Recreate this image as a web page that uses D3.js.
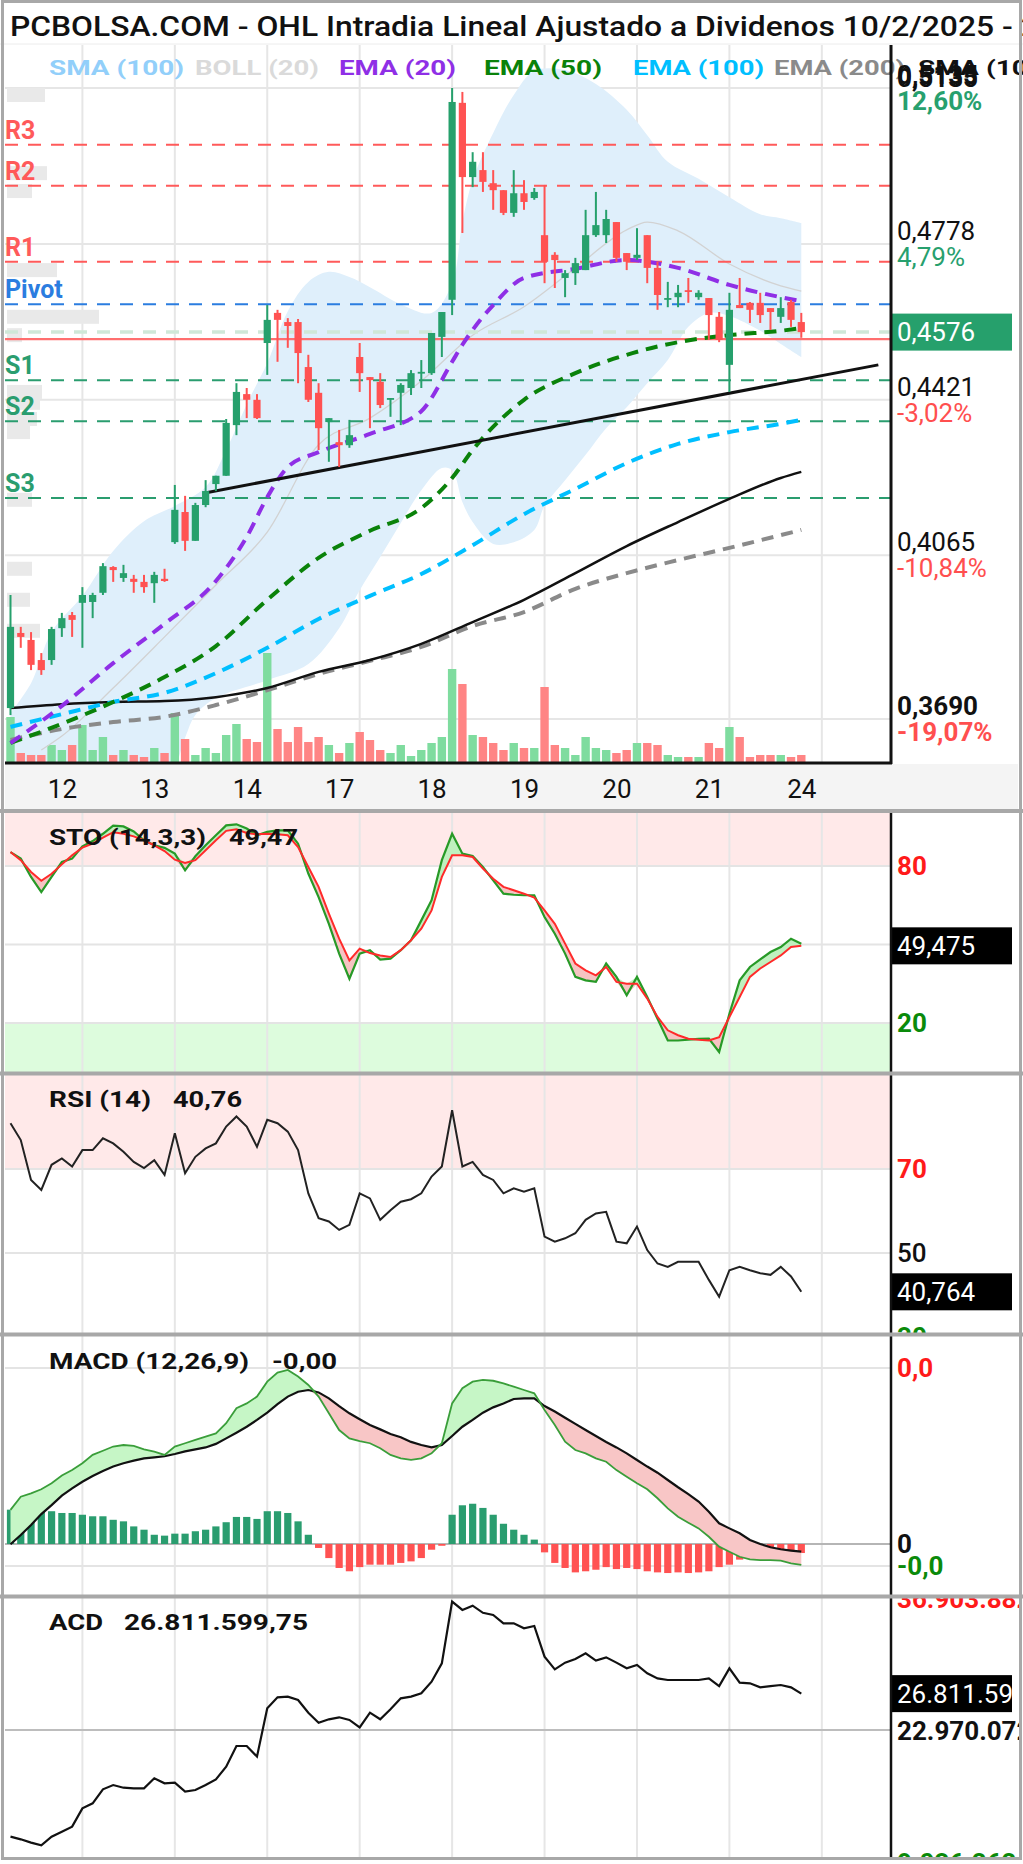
<!DOCTYPE html>
<html><head><meta charset="utf-8">
<script src="https://cdn.jsdelivr.net/npm/d3@7/dist/d3.min.js"></script>
<style>
body{margin:0;background:#fff}
svg{display:block}
text{font-family:Roboto,"Noto Sans",sans-serif}
</style></head>
<body><svg id="c" width="1023" height="1864"></svg>
<script>
// ---------------- DATA ----------------
const dayLabels = ["12","13","14","17","18","19","20","21","24"];
const dayTickIdx = [7,16,25,34,43,52,61,70,79];

const open  = [0.3715,0.3887,0.3871,0.3825,0.3825,0.3898,0.3928,0.3956,0.3958,0.3979,
0.4038,0.4013,0.4011,0.4004,0.4001,0.4011,0.4095,0.4164,0.4098,0.4180,
0.4228,0.4247,0.4363,0.4434,0.4421,0.4551,0.4620,0.4599,0.4599,0.4496,
0.4437,0.4370,0.4324,0.4317,0.4519,0.4473,0.4462,0.4421,0.4437,0.4448,
0.4482,0.4482,0.4565,0.4650,0.5101,0.4931,0.4947,0.4917,0.4901,0.4849,
0.4894,0.4883,0.4798,0.4753,0.4700,0.4711,0.4718,0.4798,0.4798,0.4828,
0.4757,0.4746,0.4798,0.4723,0.4650,0.4656,0.4672,0.4656,0.4654,0.4611,
0.4501,0.4638,0.4643,0.4643,0.4631,0.4611,0.4645,0.4599];
const high  = [0.3974,0.3901,0.3889,0.3841,0.3901,0.3933,0.3935,0.3992,0.3979,0.4047,
0.4040,0.4043,0.4020,0.4020,0.4027,0.4034,0.4226,0.4201,0.4185,0.4237,
0.4247,0.4377,0.4459,0.4448,0.4434,0.4638,0.4627,0.4608,0.4606,0.4524,
0.4459,0.4379,0.4352,0.4375,0.4551,0.4473,0.4482,0.4425,0.4459,0.4489,
0.4512,0.4574,0.4622,0.5135,0.5126,0.4988,0.4988,0.4947,0.4901,0.4947,
0.4924,0.4906,0.4913,0.4759,0.4718,0.4746,0.4856,0.4897,0.4856,0.4828,
0.4757,0.4814,0.4798,0.4737,0.4691,0.4684,0.4700,0.4672,0.4654,0.4622,
0.4666,0.4700,0.4645,0.4666,0.4631,0.4656,0.4650,0.4620];
const low   = [0.3699,0.3853,0.3802,0.3791,0.3814,0.3878,0.3878,0.3853,0.3921,0.3974,
0.4004,0.4004,0.3979,0.3979,0.3956,0.4004,0.4091,0.4075,0.4098,0.4175,
0.4212,0.4247,0.4340,0.4379,0.4377,0.4478,0.4508,0.4540,0.4459,0.4416,
0.4306,0.4279,0.4267,0.4311,0.4439,0.4356,0.4402,0.4382,0.4363,0.4432,
0.4448,0.4478,0.4519,0.4615,0.4803,0.4908,0.4897,0.4856,0.4844,0.4840,
0.4856,0.4879,0.4688,0.4677,0.4656,0.4684,0.4718,0.4794,0.4780,0.4737,
0.4718,0.4741,0.4688,0.4627,0.4633,0.4633,0.4643,0.4650,0.4558,0.4553,
0.4439,0.4631,0.4597,0.4597,0.4581,0.4597,0.4588,0.4563];
const close = [0.3901,0.3878,0.3814,0.3802,0.3896,0.3921,0.3917,0.3974,0.3974,0.4040,
0.4031,0.4024,0.4004,0.3992,0.4020,0.4006,0.4169,0.4098,0.4180,0.4212,
0.4247,0.4368,0.4439,0.4421,0.4379,0.4604,0.4604,0.4590,0.4528,0.4421,
0.4356,0.4379,0.4317,0.4340,0.4482,0.4466,0.4409,0.4425,0.4455,0.4482,
0.4485,0.4574,0.4622,0.5103,0.4931,0.4966,0.4920,0.4901,0.4849,0.4894,
0.4874,0.4897,0.4737,0.4741,0.4711,0.4734,0.4798,0.4821,0.4835,0.4746,
0.4737,0.4753,0.4723,0.4661,0.4654,0.4666,0.4668,0.4666,0.4615,0.4558,
0.4627,0.4631,0.4627,0.4615,0.4622,0.4631,0.4604,0.4576];
const volume = [450,90,70,70,170,120,170,370,120,250,
70,120,70,50,140,90,490,230,70,140,
90,270,380,230,200,1090,330,200,350,200,
250,170,90,190,300,220,120,90,170,60,
120,190,250,930,780,270,250,190,120,190,
140,140,750,170,140,70,250,140,120,90,
120,190,190,170,70,50,50,50,190,140,
350,250,50,70,70,70,50,70];

// overlays: index of candle + value
const ema20Idx = [0,5,10,15,20,23,25,27,30,35,40,43,44,45,47,50,55,60,65,70,75,77];
const ema20 = [0.3635,0.3720,0.3818,0.3908,0.4006,0.4107,0.4198,0.4267,0.4301,0.4343,0.4395,0.4508,0.4547,0.4581,0.4638,0.4700,0.4721,0.4741,0.4723,0.4684,0.4656,0.4647];
const ema50Idx = [0,5,10,15,20,25,30,35,40,43,45,50,55,60,65,70,75,77];
const ema50 = [0.3635,0.3679,0.3729,0.3786,0.3857,0.3963,0.4059,0.4121,0.4173,0.4242,0.4306,0.4421,0.4482,0.4524,0.4553,0.4569,0.4579,0.4585];
const longIdx = [0,5,10,15,20,25,30,35,40,45,50,55,60,65,70,75,77];
const ema100 = [0.3672,0.3701,0.3729,0.3750,0.3795,0.3853,0.3919,0.3972,0.4022,0.4088,0.4159,0.4217,0.4276,0.4320,0.4347,0.4366,0.4375];
const ema200 = [0.3642,0.3667,0.3683,0.3695,0.3722,0.3756,0.3793,0.3823,0.3855,0.3903,0.3935,0.3988,0.4024,0.4054,0.4082,0.4111,0.4123];
const smaLong = [0.3715,0.3724,0.3729,0.3731,0.3740,0.3761,0.3798,0.3825,0.3862,0.3912,0.3963,0.4024,0.4086,0.4141,0.4194,0.4242,0.4256];
const bollMidIdx = [3,5,10,15,20,25,30,35,40,45,50,55,60,62,65,70,75,77];
const bollMid = [0.3619,0.3651,0.3761,0.3878,0.3997,0.4118,0.4318,0.4379,0.4464,0.4569,0.4634,0.4723,0.4810,0.4828,0.4808,0.4732,0.4682,0.4670];
const bollUpIdx = [0,2,4,7,10,13,16,19,21,23,25,27,29,31,33,35,38,41,43,44,45,47,49,51,54,57,60,62,64,67,70,73,75,77];
const bollUp = [0.3704,0.3772,0.3889,0.3972,0.4075,0.4143,0.4178,0.4221,0.4306,0.4411,0.4505,0.4624,0.4691,0.4714,0.4702,0.4679,0.4640,0.4620,0.4688,0.4828,0.4924,0.5032,0.5119,0.5174,0.5176,0.5144,0.5085,0.5027,0.4966,0.4927,0.4885,0.4846,0.4837,0.4826];
const bollLowIdx = [0,10,15,17,18,20,25,29,32,34,36,38,40,42,43,44,45,47,49,51,52,54,56,58,60,62,64,66,68,70,73,75,77];
const bollLow = [0.3436,0.3459,0.3527,0.3647,0.3699,0.3738,0.3779,0.3816,0.3898,0.3985,0.4061,0.4139,0.4214,0.4265,0.4260,0.4187,0.4141,0.4091,0.4095,0.4123,0.4178,0.4237,0.4295,0.4356,0.4404,0.4459,0.4512,0.4588,0.4620,0.4613,0.4579,0.4549,0.4519];
const trendIdx = [18.8, 84.5];
const trendVal = [0.4207, 0.4501];

const pivotNames = ["R3","R2","R1","Pivot","S1","S2","S3"];
const pivotVals  = [0.5005,0.4911,0.4737,0.4640,0.4466,0.4372,0.4196];
const lastClose = 0.4576, prevClose = 0.4560;

const vpPrice = [0.5119,0.4940,0.4899,0.4718,0.4611,0.4569,0.4439,0.4414,0.4377,0.4347,0.4192,0.4034,0.3963,0.3892];
const vpSize  = [38,40,25,50,92,15,35,33,30,23,25,25,23,33];

const priceTicks = [0.5135,0.4778,0.4421,0.4065,0.3690];
const priceTickLabels = ["0,5135","0,4778","0,4421","0,4065","0,3690"];
const pctLabels = ["12,60%","4,79%","-3,02%","-10,84%","-19,07%"];

const stoK = [85.3,82.8,75.8,70.0,75.8,81.5,82.8,87.5,89.5,92.3,
95.4,95.1,93.2,89.8,87.9,86.9,84.7,78.3,83.7,87.9,
91.7,95.5,95.9,94.3,91.7,93.0,93.6,93.6,88.5,77.1,
68.1,57.9,46.5,36.9,46.5,47.8,44.2,44.6,47.8,51.6,
59.2,66.9,82.2,92.3,84.7,83.8,79.6,74.5,69.4,69.0,
68.8,68.8,60.5,54.1,46.5,37.6,36.3,35.7,42.7,37.6,
30.6,37.6,29.9,21.6,13.3,13.3,13.6,13.9,14.0,8.9,
23.5,36.3,41.4,44.3,47.1,49.0,52.2,50.3];
const stoD = [85.3,82.2,77.7,74.3,77.0,80.6,84.1,87.0,88.5,90.8,
92.9,92.3,91.3,89.8,87.9,85.7,82.4,81.1,82.2,86.0,
89.8,93.4,94.0,92.6,92.1,92.3,92.1,91.7,87.2,79.6,
72.0,61.8,52.2,43.9,48.4,46.7,45.8,45.2,47.8,51.6,
56.0,63.0,75.8,84.1,84.1,83.4,79.0,75.1,72.0,70.7,
69.4,67.9,63.0,57.9,50.3,42.7,40.1,38.2,41.4,35.7,
35.0,35.0,29.3,22.3,17.2,15.3,14.0,13.6,13.3,14.6,
22.3,29.9,37.6,40.8,43.3,45.8,49.0,49.47];
const rsi = [80.9,76.9,67.4,65.0,71.0,72.5,70.6,74.5,74.5,77.3,
76.1,74.1,71.7,70.2,72.1,68.6,78.5,69.0,72.9,74.9,
76.1,80.1,82.5,80.1,75.3,81.7,80.9,78.9,74.5,64.2,
58.3,57.5,55.5,56.7,64.2,63.0,57.9,60.2,62.2,62.8,
64.2,68.2,70.6,84.0,70.6,71.7,68.6,67.4,64.2,65.4,
64.6,65.4,53.9,52.7,53.5,54.7,57.9,59.4,59.8,52.7,
52.3,56.3,50.7,47.5,46.7,47.9,47.9,47.9,43.6,39.6,
45.9,46.7,45.9,45.2,44.8,46.7,44.4,40.76];
// MACD values in units of 0.0001
const macd = [15.5,21.5,23.0,24.9,27.6,31.1,33.6,36.7,40.5,42.4,
44.3,45.0,44.6,43.0,42.0,40.5,44.3,45.8,47.3,48.8,
50.3,54.9,61.7,63.9,67.0,73.8,77.9,79.1,76.1,72.3,
67.0,59.4,51.8,48.0,46.8,45.8,43.5,40.5,38.9,38.2,
38.9,41.2,45.8,63.9,70.8,73.8,74.6,74.2,73.0,71.5,
70.0,68.5,60.9,54.1,46.5,42.7,41.2,38.9,37.4,33.6,
30.6,27.6,24.9,20.8,16.2,12.4,9.7,7.1,3.3,-1.2,
-3.5,-5.8,-7.0,-7.3,-7.3,-7.6,-8.8,-9.5];
const macdSignal = [-0.1,4.1,8.6,13.6,17.7,22.0,25.3,28.3,30.9,33.2,
35.2,36.7,37.9,38.9,39.4,39.9,40.9,42.1,43.0,43.9,
45.5,48.0,50.6,53.3,56.4,59.7,63.6,67.0,69.2,70.0,
68.9,66.2,62.7,59.4,56.7,54.1,52.1,50.0,48.5,46.4,
45.0,43.9,45.0,49.1,53.3,56.4,59.7,62.1,63.9,65.9,
66.2,66.2,62.7,60.2,57.4,54.6,51.8,49.1,46.4,43.9,
41.2,38.2,35.2,32.4,29.1,25.8,22.7,19.3,14.7,9.4,
7.1,4.9,1.8,0.0,-1.5,-2.4,-3.0,-3.5];
const macdHist = [15.6,17.1,16.4,14.9,14.9,14.1,14.1,13.3,12.6,12.6,
11.0,10.3,8.0,6.5,4.2,3.8,4.7,4.7,5.8,6.5,
8.0,9.9,12.3,12.3,11.4,14.9,14.9,14.1,10.3,4.2,
-1.8,-6.4,-10.9,-12.4,-10.5,-9.4,-9.4,-9.4,-8.6,-7.9,
-6.4,-2.6,-0.8,13.3,17.6,18.3,16.4,13.3,9.2,6.5,
4.2,2.0,-3.8,-8.6,-10.9,-12.9,-12.4,-11.7,-10.5,-11.4,
-10.9,-11.4,-12.4,-12.9,-13.2,-12.9,-13.2,-12.9,-12.4,-10.5,
-9.4,-7.1,-5.6,-4.4,-2.6,-3.8,-3.3,-4.1];
// ACD in millions
const acd = [11.71,11.43,11.08,10.79,11.71,12.24,12.77,14.70,15.23,16.71,
17.16,16.88,16.81,16.81,17.87,17.34,17.41,16.46,16.64,17.16,
17.76,19.10,21.28,21.28,20.16,25.26,26.42,26.49,26.14,24.80,
23.74,24.10,24.31,24.03,23.25,24.80,24.10,25.15,26.31,26.49,
26.84,28.07,30.01,36.52,35.64,36.09,35.34,35.11,34.23,34.23,
33.70,33.95,30.71,29.37,30.08,30.46,31.06,30.29,30.64,30.08,
29.48,29.83,28.95,28.42,28.25,28.25,28.25,28.25,28.42,27.61,
29.48,27.97,27.90,27.47,27.61,27.72,27.47,26.81];

// ---------------- LAYOUT ----------------
const svg = d3.select("#c");
const defs = svg.append("defs");
const PL = 5, PR = 891;
const UP = "#26a06c", DN = "#ff5252";
function clip(id, x, y, w, h){
  defs.append("clipPath").attr("id", id).append("rect")
    .attr("x", x).attr("y", y).attr("width", w).attr("height", h);
  return "url(#" + id + ")";
}
function T(g, s, x, y, o){
  o = o || {};
  const t = g.append("text").attr("x", x).attr("y", y).text(s)
    .attr("font-size", o.size || 26).attr("font-weight", o.weight || 400)
    .attr("fill", o.fill || "#111");
  if (o.anchor) t.attr("text-anchor", o.anchor);
  if (o.len) t.attr("textLength", o.len).attr("lengthAdjust", "spacingAndGlyphs");
  return t;
}
const N = close.length;
const idx = d3.range(N);
const x = d3.scaleLinear().domain([0, 77]).range([10.5, 801.3]);
const y = d3.scaleLinear().domain([0.3690, 0.5135]).range([719, 88]);
const yVol = d3.scaleLinear().domain([0, 1090]).range([762, 653]);
const vpW = d3.scaleLinear().domain([0, 100]).range([0, 100]);

svg.append("rect").attr("width", 1023).attr("height", 1864).attr("fill", "#fff");

// ---------- title ----------
T(svg, "PCBOLSA.COM - OHL Intradia Lineal Ajustado a Dividenos 10/2/2025 - 24/2/2025", 10, 36,
  {size: 28, weight: 500, len: 1162});

// ---------- main panel ----------
const mainTop = 45, mainBot = 762;
const gMain = svg.append("g");
gMain.append("rect").attr("x", PL).attr("y", mainBot + 2).attr("width", 1018 - PL).attr("height", 46).attr("fill", "#f4f4f4");
dayTickIdx.forEach(i => {
  gMain.append("line").attr("x1", x(i)).attr("x2", x(i)).attr("y1", mainTop).attr("y2", mainBot)
    .attr("stroke", "#e6e6e6").attr("stroke-width", 2);
});
priceTicks.forEach(v => {
  gMain.append("line").attr("x1", PL).attr("x2", PR).attr("y1", y(v)).attr("y2", y(v))
    .attr("stroke", "#e6e6e6").attr("stroke-width", 2);
});
const plot = gMain.append("g").attr("clip-path", clip("mainclip", PL, mainTop, PR - PL, mainBot - mainTop));

// bollinger band
const lc = d3.line().curve(d3.curveCatmullRom.alpha(0.5));
const upPts = bollUpIdx.map((i, k) => [x(i), y(bollUp[k])]);
const loPts = bollLowIdx.map((i, k) => [x(i), y(bollLow[k])]).reverse();
plot.append("path").attr("d", lc(upPts) + lc(loPts).replace(/^M/, "L") + "Z").attr("fill", "#dfeffb");

// volume profile
vpPrice.forEach((p, k) => {
  plot.append("rect").attr("x", PL + 2).attr("y", y(p) - 7).attr("width", vpW(vpSize[k])).attr("height", 14)
    .attr("fill", "#e9e9e9");
});
// volume bars
idx.forEach(i => {
  plot.append("rect").attr("x", x(i) - 4.2).attr("width", 8.4)
    .attr("y", yVol(volume[i])).attr("height", yVol(0) - yVol(volume[i]))
    .attr("fill", close[i] >= open[i] ? "#7fdc9f" : "#ff8585");
});
// SMA20 (boll mid)
const lm = d3.line().curve(d3.curveMonotoneX);
plot.append("path").attr("d", lm(bollMidIdx.map((i, k) => [x(i), y(bollMid[k])])))
  .attr("fill", "none").attr("stroke", "#d2d2d2").attr("stroke-width", 1.3);

// pivot lines
const pivColor = n => n[0] === "R" ? "#ff5a5a" : (n[0] === "S" ? "#2a9d6f" : "#2b7de0");
pivotNames.forEach((n, k) => {
  plot.append("line").attr("x1", PL).attr("x2", PR).attr("y1", y(pivotVals[k])).attr("y2", y(pivotVals[k]))
    .attr("stroke", pivColor(n)).attr("stroke-width", 2).attr("stroke-dasharray", "13,10");
});
plot.append("line").attr("x1", PL).attr("x2", PR).attr("y1", y(lastClose)).attr("y2", y(lastClose))
  .attr("stroke", "#cfe8d8").attr("stroke-width", 3.5).attr("stroke-dasharray", "13,10");
plot.append("line").attr("x1", PL).attr("x2", PR).attr("y1", y(prevClose)).attr("y2", y(prevClose))
  .attr("stroke", "#ff6f6f").attr("stroke-width", 2.2);

// moving averages
function ma(ids, vals, color, w, dash){
  const p = plot.append("path").attr("d", lm(ids.map((i, k) => [x(i), y(vals[k])])))
    .attr("fill", "none").attr("stroke", color).attr("stroke-width", w).attr("stroke-linecap", "butt");
  if (dash) p.attr("stroke-dasharray", dash);
}
ma(longIdx, ema200, "#8a8a8a", 4, "12,8");
ma(longIdx, smaLong, "#111", 2.5, null);
ma(longIdx, ema100, "#00bfff", 4, "12,8");
ma(ema50Idx, ema50, "#0a820a", 4, "12,8");
ma(ema20Idx, ema20, "#8f2fe6", 4, "12,8");
plot.append("line").attr("x1", x(trendIdx[0])).attr("y1", y(trendVal[0]))
  .attr("x2", x(trendIdx[1])).attr("y2", y(trendVal[1]))
  .attr("stroke", "#111").attr("stroke-width", 3);

// candles
idx.forEach(i => {
  const c = close[i] >= open[i] ? UP : DN;
  plot.append("line").attr("x1", x(i)).attr("x2", x(i)).attr("y1", y(high[i])).attr("y2", y(low[i]))
    .attr("stroke", c).attr("stroke-width", 2);
  const t = y(Math.max(open[i], close[i])), b = y(Math.min(open[i], close[i]));
  plot.append("rect").attr("x", x(i) - 3.6).attr("width", 7.2).attr("y", t).attr("height", Math.max(1.8, b - t)).attr("fill", c);
});

pivotNames.forEach((n, k) => {
  T(gMain, n, 5, y(pivotVals[k]) - 6, {size: 25, weight: 700, fill: pivColor(n)});
});

gMain.append("line").attr("x1", PL).attr("x2", PR + 1).attr("y1", mainBot + 1).attr("y2", mainBot + 1).attr("stroke", "#111").attr("stroke-width", 3);
dayLabels.forEach((d, k) => {
  T(gMain, d, x(dayTickIdx[k]) - 20, 798, {size: 26, anchor: "middle"});
});

// legend
const legend = [
  {t: "SMA (100)", c: "#92cffa", x: 49, w: 135},
  {t: "BOLL (20)", c: "#dadada", x: 195, w: 124},
  {t: "EMA (20)", c: "#8f2fe6", x: 339, w: 117},
  {t: "EMA (50)", c: "#0a820a", x: 484, w: 118},
  {t: "EMA (100)", c: "#00bfff", x: 633, w: 131},
  {t: "EMA (200)", c: "#8a8a8a", x: 774, w: 131},
  {t: "SMA (1000)", c: "#111", x: 918, w: 152}
];
legend.forEach(l => T(gMain, l.t, l.x, 75, {size: 21, weight: 700, fill: l.c, len: l.w}));

priceTicks.forEach((v, k) => {
  const bold = (k === 0 || k === priceTicks.length - 1);
  const pct = pctLabels[k];
  T(gMain, priceTickLabels[k], 897, y(v) - 4, {size: 26, weight: bold ? 700 : 400});
  T(gMain, pct, 897, y(v) + 22, {size: 26, weight: bold ? 700 : 400, fill: pct[0] === "-" ? "#ff4f4f" : "#27a06e"});
});
gMain.append("rect").attr("x", 892).attr("y", y(lastClose) - 18.5).attr("width", 120).attr("height", 37).attr("fill", UP);
T(gMain, "0,4576", 897, y(lastClose) + 9, {size: 26, fill: "#fff"});

// ---------------- lower panels ----------------
const panels = [
  {top: 813, bot: 1072},
  {top: 1075, bot: 1333},
  {top: 1336, bot: 1595},
  {top: 1598, bot: 1857}
];
function vgrid(g, p){
  dayTickIdx.forEach(i => g.append("line").attr("x1", x(i)).attr("x2", x(i)).attr("y1", p.top).attr("y2", p.bot)
    .attr("stroke", "#e6e6e6").attr("stroke-width", 2));
}
function hline(g, yy, color, w){
  g.append("line").attr("x1", PL).attr("x2", PR).attr("y1", yy).attr("y2", yy).attr("stroke", color).attr("stroke-width", w);
}
function boxLabel(g, s, cy, fill, clipId){
  g.append("rect").attr("x", 892).attr("y", cy - 18.5).attr("width", 120).attr("height", 37).attr("fill", fill);
  const t = T(g, s, 897, cy + 9, {size: 26, fill: "#fff"});
  if (clipId) t.attr("clip-path", clip(clipId, 892, cy - 18.5, 120, 37));
}
function fillBetween(g, a, b, upColor, dnColor, ys){
  g.append("path").attr("d", d3.area().x(i => x(i)).y0(i => ys(b[i])).y1(i => ys(Math.max(a[i], b[i])))(idx)).attr("fill", upColor);
  g.append("path").attr("d", d3.area().x(i => x(i)).y0(i => ys(b[i])).y1(i => ys(Math.min(a[i], b[i])))(idx)).attr("fill", dnColor);
}
const lineIdx = (arr, ys) => d3.line().x(i => x(i)).y(i => ys(arr[i]))(idx);

// STO
{
  const p = panels[0];
  const ys = d3.scaleLinear().domain([0, 100]).range([1075.3, 813.6]);
  const g = svg.append("g");
  g.append("rect").attr("x", PL).attr("y", p.top).attr("width", PR - PL).attr("height", ys(80) - p.top).attr("fill", "#ffe9e9");
  g.append("rect").attr("x", PL).attr("y", ys(20)).attr("width", PR - PL).attr("height", p.bot - ys(20)).attr("fill", "#ddfcdd");
  vgrid(g, p);
  [80, 50, 20].forEach(v => hline(g, ys(v), "#e4e4e4", 2));
  const pg = g.append("g").attr("clip-path", clip("stoclip", PL, p.top, PR - PL, p.bot - p.top));
  fillBetween(pg, stoK, stoD, "#bff0bf", "#f6c3c3", ys);
  pg.append("path").attr("d", lineIdx(stoK, ys)).attr("fill", "none").attr("stroke", "#279a27").attr("stroke-width", 2.2);
  pg.append("path").attr("d", lineIdx(stoD, ys)).attr("fill", "none").attr("stroke", "#ff2a2a").attr("stroke-width", 2);
  T(g, "STO (14,3,3)", 49, 845, {size: 22, weight: 700, len: 157});
  T(g, "49,47", 229, 845, {size: 22, weight: 700, len: 69});
  T(g, "80", 897, ys(80) + 9, {size: 26, weight: 700, fill: "#ff1a1a"});
  T(g, "20", 897, ys(20) + 9, {size: 26, weight: 700, fill: "#0a8a0a"});
  boxLabel(g, "49,475", ys(stoD[N - 1]), "#000");
}
// RSI
{
  const p = panels[1];
  const ys = d3.scaleLinear().domain([30, 70]).range([1337, 1169]);
  const g = svg.append("g");
  g.append("rect").attr("x", PL).attr("y", p.top).attr("width", PR - PL).attr("height", ys(70) - p.top).attr("fill", "#ffe9e9");
  vgrid(g, p);
  [70, 50].forEach(v => hline(g, ys(v), "#e4e4e4", 2));
  const pg = g.append("g").attr("clip-path", clip("rsiclip", PL, p.top, PR - PL, p.bot - p.top));
  pg.append("path").attr("d", lineIdx(rsi, ys)).attr("fill", "none").attr("stroke", "#222").attr("stroke-width", 2);
  T(g, "RSI (14)", 49, 1107, {size: 22, weight: 700, len: 102});
  T(g, "40,76", 173, 1107, {size: 22, weight: 700, len: 69});
  T(g, "70", 897, ys(70) + 9, {size: 26, weight: 700, fill: "#ff1a1a"});
  T(g, "50", 897, ys(50) + 9, {size: 26, weight: 500});
  T(g, "30", 897, ys(30) + 9, {size: 26, weight: 700, fill: "#0a8a0a"}).attr("clip-path", clip("rsilab", 892, p.top, 130, p.bot - p.top));
  boxLabel(g, "40,764", ys(rsi[N - 1]), "#000");
}
// MACD
{
  const p = panels[2];
  const ys = d3.scaleLinear().domain([-10, 80]).range([1566, 1368]);
  const g = svg.append("g");
  vgrid(g, p);
  hline(g, ys(80), "#e4e4e4", 2);
  hline(g, ys(-10), "#e4e4e4", 2);
  hline(g, ys(0), "#b5b5b5", 2);
  const pg = g.append("g").attr("clip-path", clip("macdclip", PL, p.top, PR - PL, p.bot - p.top));
  idx.forEach(i => {
    const v = macdHist[i];
    pg.append("rect").attr("x", x(i) - 3.6).attr("width", 7.2)
      .attr("y", Math.min(ys(0), ys(v))).attr("height", Math.abs(ys(v) - ys(0)))
      .attr("fill", v >= 0 ? "#2a9d6f" : "#ff5252");
  });
  fillBetween(pg, macd, macdSignal, "#c6f6c6", "#f8c6c6", ys);
  pg.append("path").attr("d", lineIdx(macdSignal, ys)).attr("fill", "none").attr("stroke", "#111").attr("stroke-width", 2.2);
  pg.append("path").attr("d", lineIdx(macd, ys)).attr("fill", "none").attr("stroke", "#3a9e3a").attr("stroke-width", 1.8);
  T(g, "MACD (12,26,9)", 49, 1369, {size: 22, weight: 700, len: 200});
  T(g, "-0,00", 272, 1369, {size: 22, weight: 700, len: 65});
  T(g, "0,0", 897, ys(80) + 9, {size: 26, weight: 700, fill: "#ff1a1a"});
  T(g, "0", 897, ys(0) + 9, {size: 26, weight: 700});
  T(g, "-0,0", 897, ys(-10) + 9, {size: 26, weight: 700, fill: "#0a8a0a"});
}
// ACD
{
  const p = panels[3];
  const ys = d3.scaleLinear().domain([9.0363, 36.9039]).range([1862, 1598]);
  const g = svg.append("g");
  vgrid(g, p);
  hline(g, ys(22.9701), "#bdbdbd", 2);
  const pg = g.append("g").attr("clip-path", clip("acdclip", PL, p.top, PR - PL, p.bot - p.top));
  pg.append("path").attr("d", lineIdx(acd, ys)).attr("fill", "none").attr("stroke", "#111").attr("stroke-width", 2.2);
  T(g, "ACD", 49, 1630, {size: 22, weight: 700, len: 54});
  T(g, "26.811.599,75", 124, 1630, {size: 22, weight: 700, len: 184});
  const lab = g.append("g").attr("clip-path", clip("acdlab", 892, p.top, 128, p.bot - p.top));
  T(lab, "36.903.882", 897, ys(36.9039) + 10, {size: 26, weight: 700, fill: "#ff1a1a"});
  T(lab, "22.970.072", 897, ys(22.9701) + 10, {size: 26, weight: 700});
  T(lab, "9.036.262", 897, ys(9.0363) + 10, {size: 26, weight: 700, fill: "#0a8a0a"});
  boxLabel(g, "26.811.599,75", ys(acd[N - 1]), "#000", "acdbox");
}

svg.append("line").attr("x1", PR).attr("x2", PR).attr("y1", mainTop).attr("y2", mainBot + 2).attr("stroke", "#111").attr("stroke-width", 3);
svg.append("line").attr("x1", PR).attr("x2", PR).attr("y1", 811).attr("y2", 1858).attr("stroke", "#111").attr("stroke-width", 2.5);
T(svg, "0,5135", 897, 87, {size: 26, weight: 700});

[811, 1073.5, 1334.5, 1596.5].forEach(yy => {
  svg.append("line").attr("x1", 0).attr("x2", 1023).attr("y1", yy).attr("y2", yy).attr("stroke", "#a8a8a8").attr("stroke-width", 4);
});
svg.append("line").attr("x1", 0).attr("x2", 1023).attr("y1", mainTop - 1).attr("y2", mainTop - 1).attr("stroke", "#ececec").attr("stroke-width", 1);
svg.append("rect").attr("x", 2.5).attr("y", 1.5).attr("width", 1018).attr("height", 1857).attr("fill", "none").attr("stroke", "#a8a8a8").attr("stroke-width", 3);
</script></body></html>
